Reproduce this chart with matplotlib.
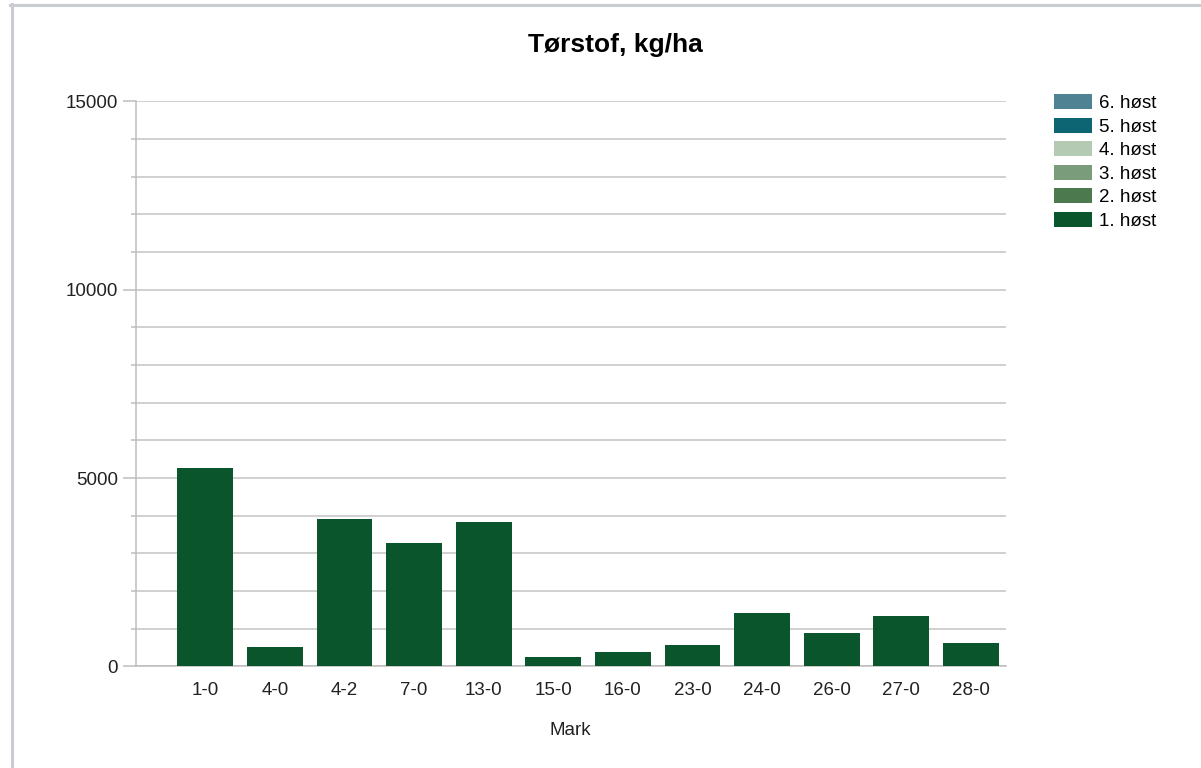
import matplotlib.pyplot as plt
from matplotlib.lines import Line2D
from matplotlib.ticker import MultipleLocator

plt.rcParams["font.family"] = ["Liberation Sans", "DejaVu Sans"]

marks = ["1-0", "4-0", "4-2", "7-0", "13-0", "15-0", "16-0",
         "23-0", "24-0", "26-0", "27-0", "28-0"]

# dry matter per harvest, kg/ha (only the first harvest has values)
host_1 = [5260, 515, 3920, 3275, 3848, 245, 393, 579, 1412, 897, 1340, 624]
host_2 = [0] * len(marks)
host_3 = [0] * len(marks)
host_4 = [0] * len(marks)
host_5 = [0] * len(marks)
host_6 = [0] * len(marks)

series = [host_1, host_2, host_3, host_4, host_5, host_6]
series_labels = ["1. høst", "2. høst", "3. høst", "4. høst", "5. høst", "6. høst"]
series_colors = ["#0b552c", "#4c7a4e", "#7a9c7a", "#b5cab2", "#0d6473", "#4f8293"]

fig = plt.figure(figsize=(12.01, 7.68), dpi=100)
ax = fig.add_axes([0.113, 0.1322, 0.7244, 0.7358])

x = list(range(len(marks)))
bottom = [0] * len(marks)
handles = []
for vals, label, color in zip(series, series_labels, series_colors):
    bars = ax.bar(x, vals, width=0.8, bottom=bottom, color=color,
                  label=label, zorder=3)
    handles.append(bars)
    bottom = [b + v for b, v in zip(bottom, vals)]

ax.set_xlim(-1, 11.5)
ax.set_ylim(0, 15000)
ax.set_xticks(x)
ax.set_xticklabels(marks)
ax.yaxis.set_major_locator(MultipleLocator(5000))
ax.yaxis.set_minor_locator(MultipleLocator(1000))

grid_color = "#c4c4c4"
ax.grid(axis="y", which="both", color=grid_color, linewidth=1.1, zorder=0)
ax.set_axisbelow(True)

for side in ["top", "right"]:
    ax.spines[side].set_visible(False)
for side in ["left", "bottom"]:
    ax.spines[side].set_color("#bdbdbd")
    ax.spines[side].set_linewidth(1.1)

ax.tick_params(axis="x", length=0, pad=11.5, labelsize=13.5, labelcolor="#222222")
ax.tick_params(axis="y", which="major", length=9.7, width=1.1, color="#bdbdbd",
               pad=3, labelsize=13.5, labelcolor="#222222")
ax.tick_params(axis="y", which="minor", length=3.6, width=1.1, color="#bdbdbd")

ax.set_xlabel("Mark", fontsize=13.5, labelpad=16, color="#222222")
fig.text(615 / 1201, 1 - 45 / 768, "Tørstof, kg/ha", fontsize=19,
         fontweight="bold", ha="center", va="center")

fig.legend(handles[::-1], series_labels[::-1], loc="upper left",
           bbox_to_anchor=(1054 / 1201, 1 - 94 / 768), frameon=False,
           fontsize=13.5, handlelength=2.0, handleheight=0.85,
           handletextpad=0.4, labelspacing=0.3, borderpad=0, borderaxespad=0)

# light grey border at the top and left edge of the image
border = "#c9cdd2"
fig.add_artist(Line2D([10 / 1201, 1], [1 - 5 / 768, 1 - 5 / 768],
                      transform=fig.transFigure, color=border, linewidth=2.2))
fig.add_artist(Line2D([11.5 / 1201, 11.5 / 1201], [0, 1 - 4 / 768],
                      transform=fig.transFigure, color=border, linewidth=2.2))

fig.savefig("out.png", dpi=100)
